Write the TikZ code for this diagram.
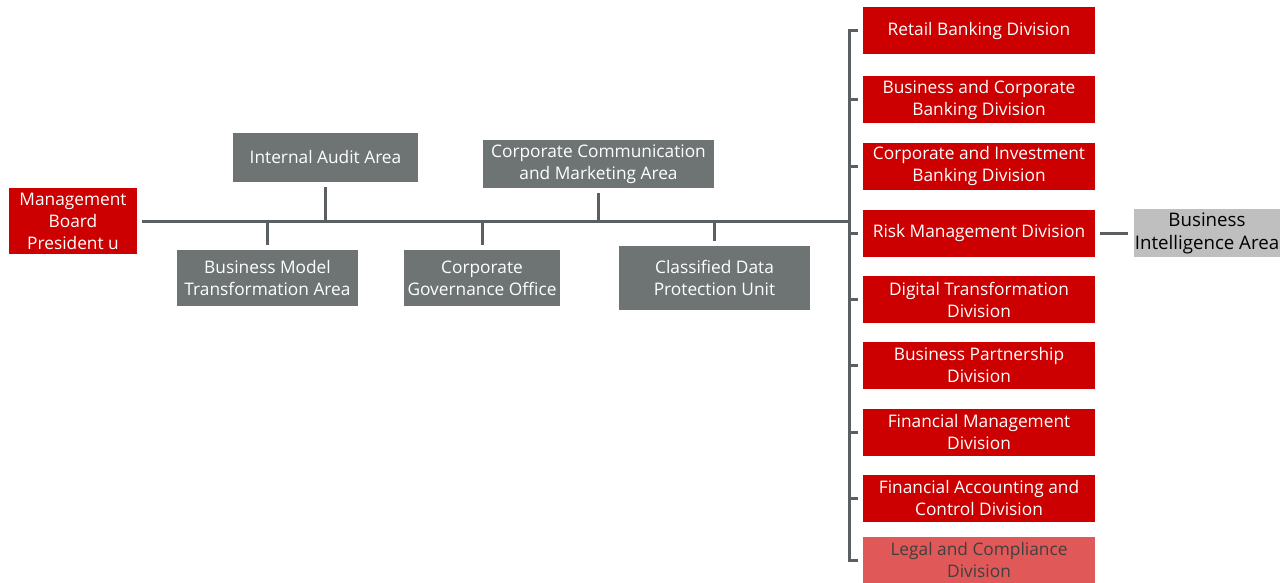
\documentclass[tikz,border=0pt]{standalone}
\usepackage{fontspec}
\setmainfont{Open Sans}
\usepackage{xcolor}
\definecolor{divred}{RGB}{204, 0, 0}
\definecolor{lightred}{RGB}{224, 88, 88}
\definecolor{areagray}{RGB}{110, 116, 116}
\definecolor{linegray}{RGB}{90, 95, 98}
\definecolor{bigray}{RGB}{191, 191, 191}
\usepackage{tikz}
\usetikzlibrary{positioning, calc}

\tikzset{
    unit/.style={draw=none, align=center, inner sep=0pt, font=\fontsize{17.3}{22}\selectfont},
    redunit/.style={unit, fill=divred, text=white},
    grayunit/.style={unit, fill=areagray, text=white},
    division/.style={redunit, minimum width=232pt, minimum height=47pt},
    conn/.style={draw=linegray, line width=3pt},
    gap/.style={shorten <=5pt},
}

\begin{document}
\begin{tikzpicture}[x=1pt, y=-1pt]
    \useasboundingbox (0,0) rectangle (1288,583);

    % board and staff areas
    \node[redunit, minimum width=128pt, minimum height=66pt] (board) at (73,221) {Management\\Board\\President u};
    \node[grayunit, minimum width=185pt, minimum height=49pt] (audit) at (325.5,157.5) {Internal Audit Area};
    \node[grayunit, minimum width=231pt, minimum height=48pt] (comm) at (598.5,164) {Corporate Communication\\and Marketing Area};
    \node[grayunit, minimum width=181pt, minimum height=56pt] (model) at (267.5,278) {Business Model\\Transformation Area};
    \node[grayunit, minimum width=156pt, minimum height=56pt] (gov) at (482,278) {Corporate\\Governance Office};
    \node[grayunit, minimum width=191pt, minimum height=64pt] (dataunit) at (714.5,278) {Classified Data\\Protection Unit};

    % divisions
    \node[division] (retail) at (979,31) {Retail Banking Division};
    \node[division] (corpbank) at (979,100) {Business and Corporate\\Banking Division};
    \node[division] (invbank) at (979,166.5) {Corporate and Investment\\Banking Division};
    \node[division] (risk) at (979,233) {Risk Management Division};
    \node[division] (digital) at (979,299.5) {Digital Transformation\\Division};
    \node[division] (partner) at (979,365.5) {Business Partnership\\Division};
    \node[division] (finmgmt) at (979,432) {Financial Management\\Division};
    \node[division] (finacct) at (979,498) {Financial Accounting and\\Control Division};
    \node[division, fill=lightred, text=black!75] (legal) at (979,560) {Legal and Compliance\\Division};
    \node[unit, fill=bigray, text=black, minimum width=146pt, minimum height=48pt,
          font=\fontsize{18.7}{23}\selectfont] (bi) at (1207,233) {Business\\Intelligence Area};

    \coordinate (hub) at (849,221);

    % connectors
    \draw[conn, gap] (board.east) -- (hub);
    \draw[conn, line cap=rect] (retail.west -| hub) -- (legal.west -| hub);
    \draw[conn, shorten <=5pt] (audit.south) -- (audit.south |- hub);
    \draw[conn, shorten <=5pt] (comm.south) -- (comm.south |- hub);
    \draw[conn, shorten <=5pt] (model.north) -- (model.north |- hub);
    \draw[conn, shorten <=5pt] (gov.north) -- (gov.north |- hub);
    \draw[conn, shorten <=5pt] (dataunit.north) -- (dataunit.north |- hub);
    \foreach \d in {retail, corpbank, invbank, risk, digital, partner, finmgmt, finacct, legal}
        \draw[conn, gap] (\d.west) -- (\d.west -| hub);
    \draw[conn, shorten <=5pt, shorten >=6pt] (risk.east) -- (bi.west);
\end{tikzpicture}
\end{document}
